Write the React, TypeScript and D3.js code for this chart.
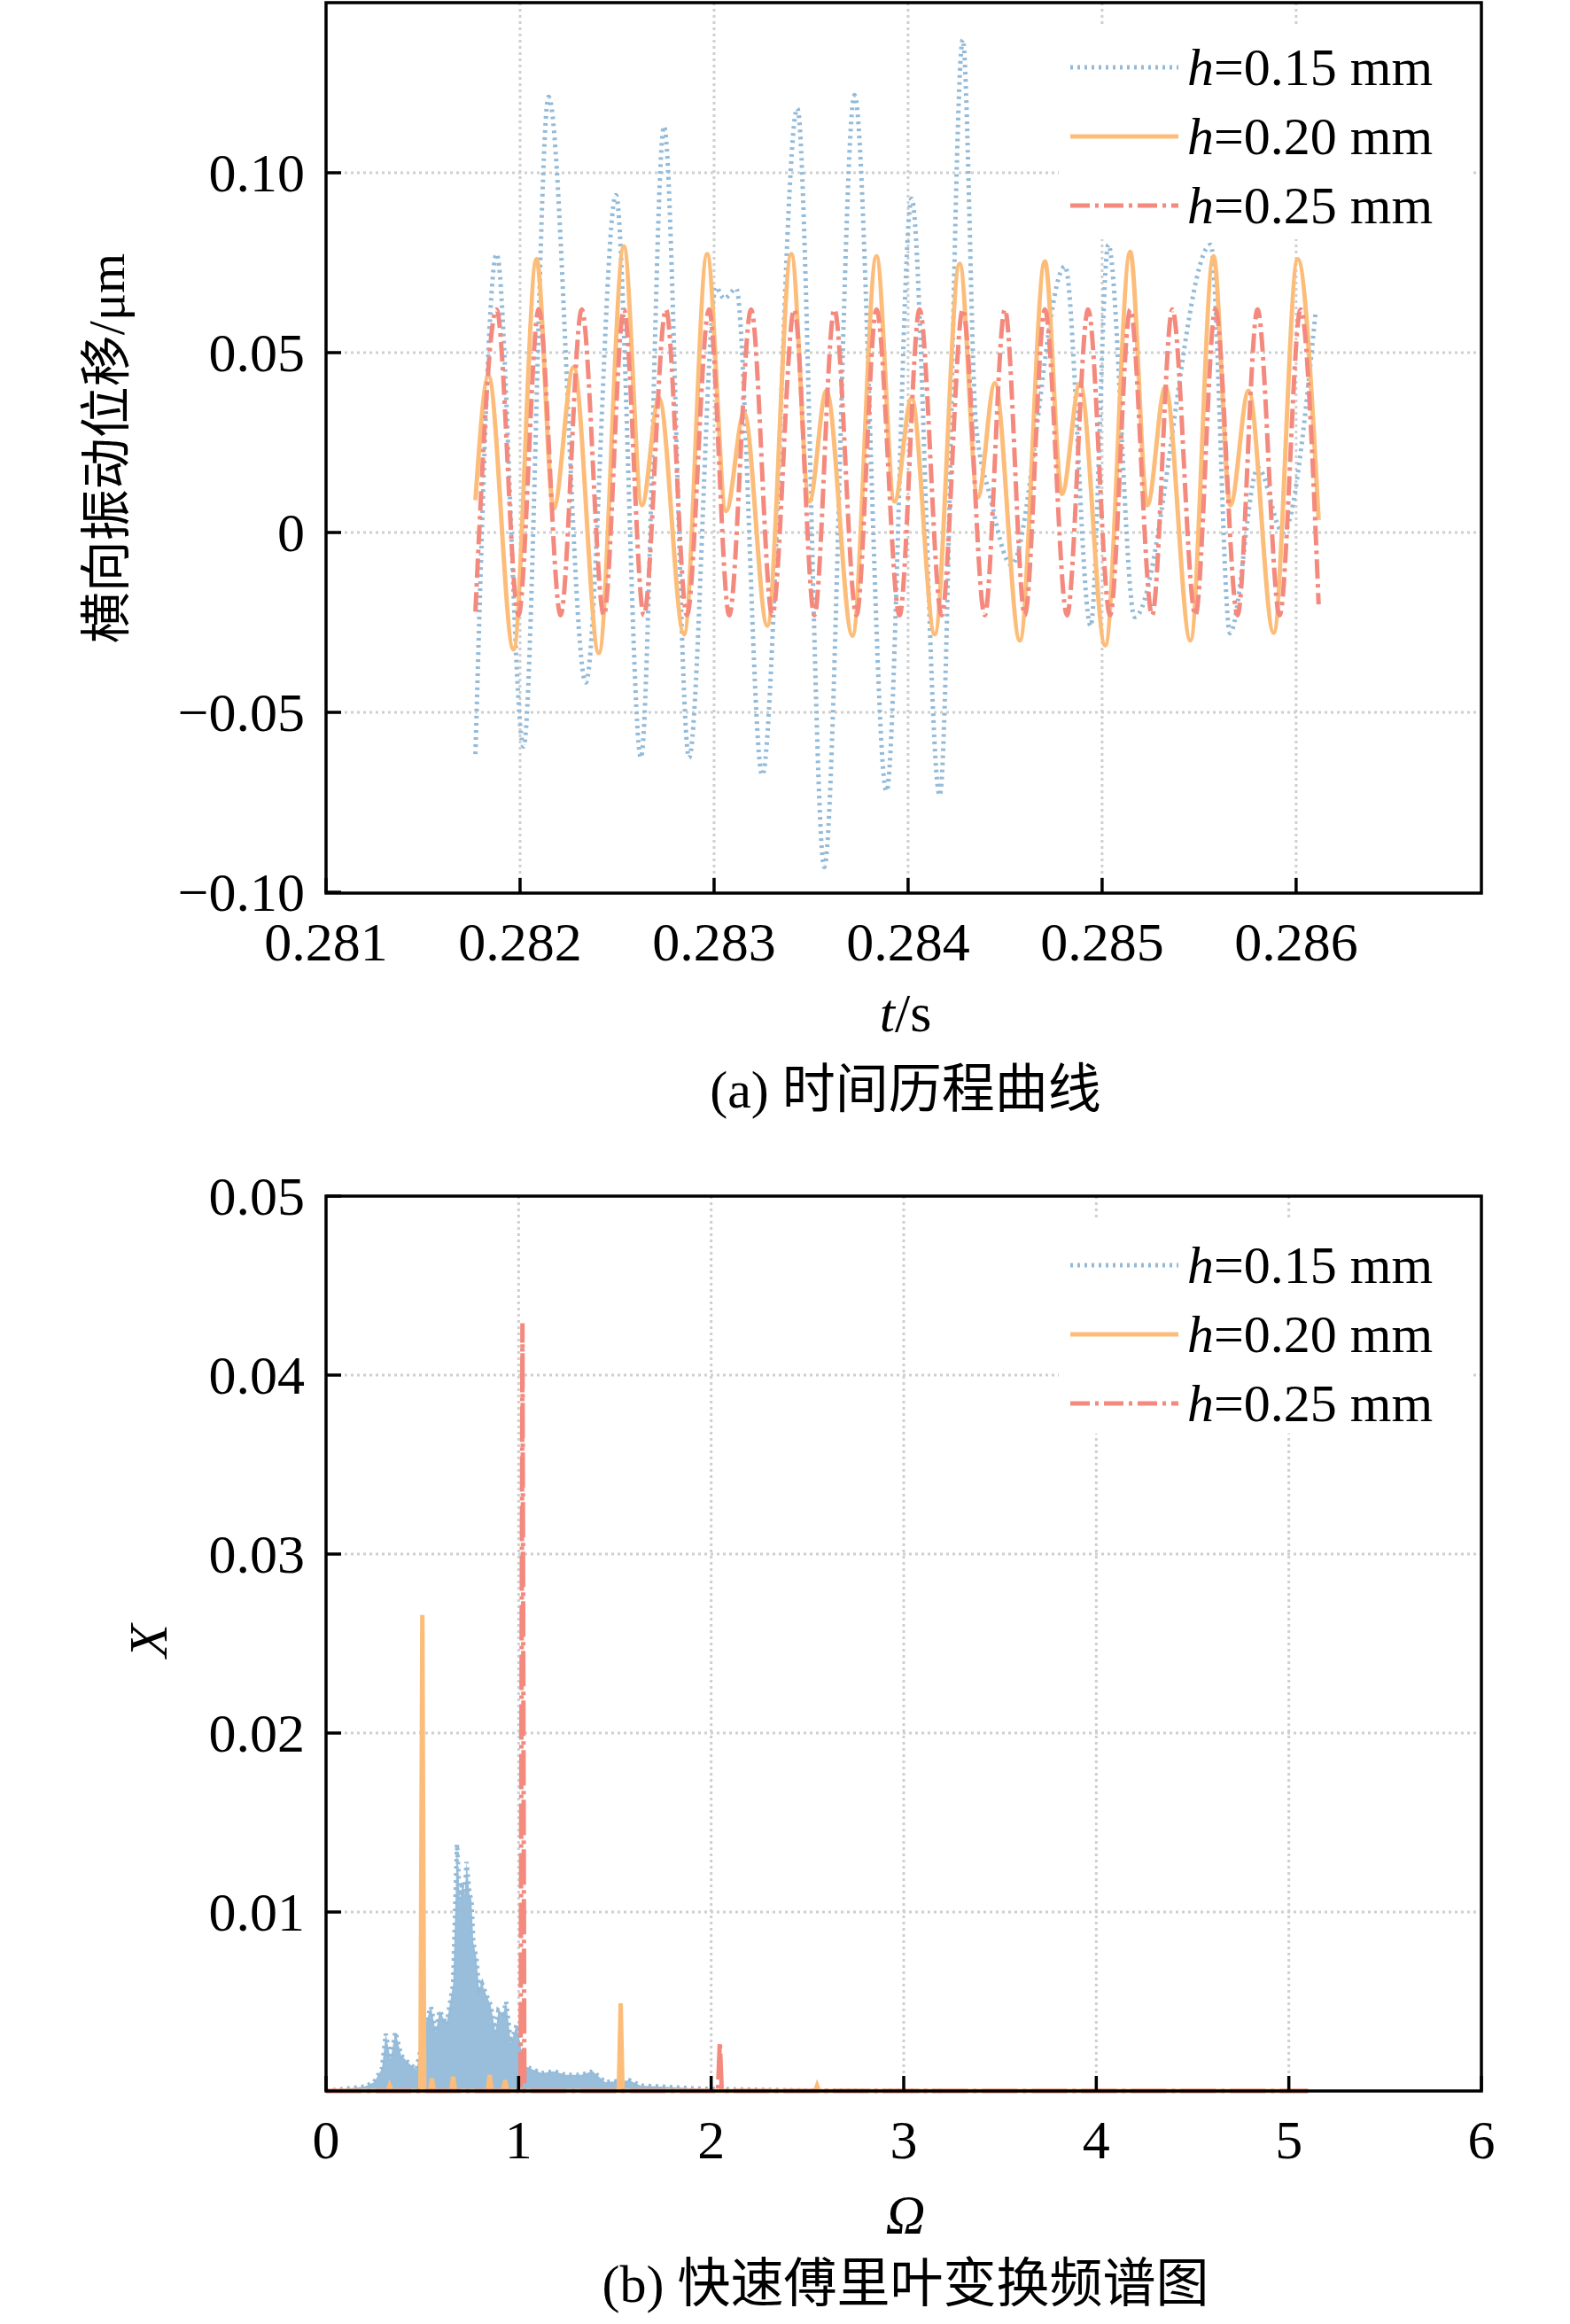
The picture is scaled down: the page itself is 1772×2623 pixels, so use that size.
import React from "react";
import * as d3 from "d3";

// ---------- data: time history (t in s, displacement in μm) ----------
const tH15 = [0.281770,0.281879,0.282018,0.282147,0.282339,0.282494,0.282623,0.282742,0.282871,0.283010,0.283052,0.283114,0.283248,0.283429,0.283568,0.283724,0.283889,0.284018,0.284163,0.284282,0.284350,0.284423,0.284532,0.284809,0.284941,0.285032,0.285168,0.285560,0.285659,0.285804,0.285932,0.286100];
const vH15 = [-0.0616,0.0774,-0.0595,0.1211,-0.0417,0.0938,-0.0626,0.1129,-0.0626,0.0682,0.0650,0.0678,-0.0674,0.1179,-0.0930,0.1216,-0.0719,0.0928,-0.0731,0.1370,0.0300,0.0100,-0.0090,0.0740,-0.0260,0.0800,-0.0235,0.0800,-0.0280,0.0180,0.0000,0.0610];

const tH20 = [0.281770,0.281837,0.281966,0.282085,0.282173,0.282276,0.282406,0.282535,0.282628,0.282716,0.282845,0.282964,0.283062,0.283155,0.283274,0.283398,0.283491,0.283579,0.283713,0.283837,0.283930,0.284018,0.284137,0.284266,0.284359,0.284447,0.284576,0.284705,0.284793,0.284886,0.285016,0.285145,0.285233,0.285326,0.285455,0.285574,0.285661,0.285755,0.285884,0.286008,0.286116];
const vH20 = [0.0090,0.0435,-0.0325,0.0760,0.0066,0.0460,-0.0335,0.0795,0.0076,0.0374,-0.0283,0.0774,0.0060,0.0333,-0.0259,0.0774,0.0086,0.0394,-0.0287,0.0768,0.0086,0.0374,-0.0283,0.0747,0.0097,0.0415,-0.0300,0.0754,0.0107,0.0415,-0.0314,0.0780,0.0076,0.0405,-0.0300,0.0768,0.0076,0.0394,-0.0279,0.0760,0.0035];

const tH25 = [0.281770,0.281879,0.281992,0.282096,0.282209,0.282318,0.282432,0.282535,0.282638,0.282752,0.282860,0.282974,0.283078,0.283191,0.283300,0.283413,0.283517,0.283620,0.283734,0.283837,0.283956,0.284059,0.284173,0.284282,0.284395,0.284499,0.284602,0.284705,0.284819,0.284928,0.285041,0.285145,0.285258,0.285362,0.285481,0.285584,0.285698,0.285801,0.285915,0.286023,0.286116];
const vH25 = [-0.022,0.062,-0.023,0.062,-0.023,0.062,-0.023,0.062,-0.023,0.062,-0.023,0.062,-0.023,0.062,-0.023,0.062,-0.023,0.062,-0.023,0.062,-0.023,0.062,-0.023,0.062,-0.023,0.062,-0.023,0.062,-0.023,0.062,-0.023,0.062,-0.023,0.062,-0.023,0.062,-0.023,0.062,-0.023,0.062,-0.020];

// ---------- data: FFT spectrum ----------
const wH15 = [0,0.20,0.25,0.29,0.31,0.335,0.36,0.39,0.435,0.47,0.515,0.545,0.57,0.59,0.625,0.645,0.66,0.68,0.695,0.71,0.72,0.73,0.745,0.755,0.765,0.78,0.795,0.81,0.835,0.855,0.88,0.895,0.92,0.935,0.96,0.99,1.03,1.075,1.12,1.185,1.245,1.325,1.385,1.45,1.575,1.635,1.745,1.9,2.07,2.5,3.2];
const xH15 = [0,0.00025,0.0005,0.00125,0.0032,0.0018,0.0033,0.002,0.0015,0.0012,0.0037,0.0047,0.0033,0.0045,0.0037,0.005,0.006,0.0138,0.0107,0.0117,0.011,0.0128,0.011,0.0107,0.0083,0.0075,0.0057,0.006,0.0053,0.0048,0.0033,0.0045,0.0043,0.005,0.0027,0.0037,0.0014,0.0012,0.001,0.0011,0.0009,0.0009,0.0011,0.0005,0.0006,0.0003,0.00025,0.00015,0.0001,0.00003,0];

const wH20 = [0,0.32,0.33,0.34,0.49,0.50,0.51,0.54,0.55,0.56,0.65,0.66,0.67,0.84,0.85,0.86,0.92,0.93,0.94,1.52,1.53,1.54,2.54,2.55,2.56,5.1];
const xH20 = [0,0,0.0003,0,0,0.0266,0,0,0.0007,0,0,0.0008,0,0,0.0009,0,0,0.0006,0,0,0.0049,0,0,0.0003,0,0];

const wH25 = [0,1.01,1.02,1.03,2.035,2.045,2.055,5.1];
const xH25 = [0,0,0.0429,0,0,0.00275,0,0];

const legendLabels = ["0.15", "0.20", "0.25"];
const topXTicks = [0.281, 0.282, 0.283, 0.284, 0.285, 0.286];
const topYTicks = [0.1, 0.05, 0, -0.05, -0.1];
const topYLabels = ["0.10", "0.05", "0", "\u22120.05", "\u22120.10"];
const botXTicks = [0, 1, 2, 3, 4, 5, 6];
const botYTicks = [0.01, 0.02, 0.03, 0.04, 0.05];

const C15 = "#93bbd9";
const C20 = "#fdbd7a";
const C25 = "#f4897e";
const styles = [
  { c: C15, dash: "3 5", w: 5 },
  { c: C20, dash: "", w: 5 },
  { c: C25, dash: "22 6 4 6", w: 5 },
];

const FONT = "'Liberation Serif', 'Times New Roman', serif";
const CJK = "'Noto Sans CJK SC', sans-serif";
const L = 368, R = 1672;

function Legend({ y0 }: { y0: number }) {
  return (
    <g>
      {legendLabels.map((lab, i) => (
        <g key={i} transform={`translate(0,${y0 + i * 78})`}>
          <line x1={1208} x2={1330} y1={0} y2={0} stroke={styles[i].c} strokeWidth={5} strokeDasharray={styles[i].dash} />
          <text x={1340} y={20} fontSize={60} fontFamily={FONT}>
            <tspan fontStyle="italic">h</tspan>=0.{lab.slice(2)} mm
          </text>
        </g>
      ))}
    </g>
  );
}

export default function App() {
  const T = 3, B = 1008;
  const x1 = d3.scaleLinear().domain([0.281, 0.286955]).range([L, R]);
  const y1 = d3.scaleLinear().domain([-0.1, 0.1]).range([1007, 195]);
  const line1 = (ts: number[], vs: number[]) =>
    d3.line<number>().x((_, i) => x1(ts[i])).y((v) => y1(v)).curve(d3.curveMonotoneX)(vs) || "";

  const T2 = 1350, B2 = 2360;
  const x2 = d3.scaleLinear().domain([0, 6]).range([L, R]);
  const y2 = d3.scaleLinear().domain([0, 0.05]).range([B2, T2]);
  const line2 = (ws: number[], xs: number[]) =>
    d3.line<number>().x((_, i) => x2(ws[i])).y((v) => y2(v))(xs) || "";
  const area2 = d3.area<number>().x((_, i) => x2(wH15[i])).y0(B2).y1((v) => y2(v))(xH15) || "";

  const grid = "#cfcfcf";
  return (
    <svg width={1772} height={2623} style={{ position: "absolute", left: 0, top: 0, background: "#fff" }}>
      {/* ---------- plot (a) ---------- */}
      <g>
        {topXTicks.slice(1).map((t) => (
          <line key={t} x1={x1(t)} x2={x1(t)} y1={T} y2={B} stroke={grid} strokeWidth={3} strokeDasharray="3 4" />
        ))}
        {topYTicks.slice(0, 4).map((v) => (
          <line key={v} x1={L} x2={R} y1={y1(v)} y2={y1(v)} stroke={grid} strokeWidth={3} strokeDasharray="3 4" />
        ))}
        <path d={line1(tH15, vH15)} fill="none" stroke={C15} strokeWidth={5} strokeDasharray="3 5" />
        <path d={line1(tH20, vH20)} fill="none" stroke={C20} strokeWidth={5} />
        <path d={line1(tH25, vH25)} fill="none" stroke={C25} strokeWidth={5} strokeDasharray="22 6 4 6" />
        <rect x={L} y={T} width={R - L} height={B - T} fill="none" stroke="#000" strokeWidth={3.5} />
        {topXTicks.map((t) => (
          <g key={t}>
            <line x1={x1(t)} x2={x1(t)} y1={B} y2={B - 17} stroke="#000" strokeWidth={3.5} />
            <text x={x1(t)} y={1084} fontSize={62} fontFamily={FONT} textAnchor="middle">{t.toFixed(3)}</text>
          </g>
        ))}
        {topYTicks.map((v, i) => (
          <g key={v}>
            <line x1={L} x2={L + 17} y1={y1(v)} y2={y1(v)} stroke="#000" strokeWidth={3.5} />
            <text x={344} y={y1(v) + 21} fontSize={62} fontFamily={FONT} textAnchor="end">{topYLabels[i]}</text>
          </g>
        ))}
        <text transform="translate(140,506) rotate(-90)" fontSize={58} textAnchor="middle" fontFamily={CJK}>
          横向振动位移<tspan fontFamily={FONT}>/μm</tspan>
        </text>
        <text x={1022} y={1164} fontSize={62} fontFamily={FONT} textAnchor="middle">
          <tspan fontStyle="italic">t</tspan>/s
        </text>
        <text x={1022} y={1250} fontSize={60} fontFamily={FONT} textAnchor="middle">
          (a) <tspan fontFamily={CJK}>时间历程曲线</tspan>
        </text>
        <rect x={1195} y={30} width={465} height={240} fill="#fff" />
        <Legend y0={76} />
      </g>

      {/* ---------- plot (b) ---------- */}
      <g>
        {botXTicks.slice(1, 6).map((t) => (
          <line key={t} x1={x2(t)} x2={x2(t)} y1={T2} y2={B2} stroke={grid} strokeWidth={3} strokeDasharray="3 4" />
        ))}
        {botYTicks.slice(0, 4).map((v) => (
          <line key={v} x1={L} x2={R} y1={y2(v)} y2={y2(v)} stroke={grid} strokeWidth={3} strokeDasharray="3 4" />
        ))}
        <path d={area2} fill={C15} opacity={0.95} />
        <path d={line2(wH15, xH15)} fill="none" stroke={C15} strokeWidth={5} strokeDasharray="3 5" />
        <path d={line2(wH20, xH20)} fill="none" stroke={C20} strokeWidth={5} />
        <path d={line2(wH25, xH25)} fill="none" stroke={C25} strokeWidth={5} strokeDasharray="40 6 4 6" />
        <rect x={L} y={T2} width={R - L} height={B2 - T2} fill="none" stroke="#000" strokeWidth={3.5} />
        {botXTicks.map((t) => (
          <g key={t}>
            <line x1={x2(t)} x2={x2(t)} y1={B2} y2={B2 - 17} stroke="#000" strokeWidth={3.5} />
            <text x={x2(t)} y={2436} fontSize={62} fontFamily={FONT} textAnchor="middle">{t}</text>
          </g>
        ))}
        {botYTicks.map((v) => (
          <g key={v}>
            <line x1={L} x2={L + 17} y1={y2(v)} y2={y2(v)} stroke="#000" strokeWidth={3.5} />
            <text x={344} y={y2(v) + 21} fontSize={62} fontFamily={FONT} textAnchor="end">{v.toFixed(2)}</text>
          </g>
        ))}
        <text transform="translate(188,1852) rotate(-90)" fontSize={62} fontStyle="italic" textAnchor="middle" fontFamily={FONT}>X</text>
        <text x={1022} y={2520} fontSize={62} fontStyle="italic" fontFamily={FONT} textAnchor="middle">Ω</text>
        <text x={1022} y={2598} fontSize={60} fontFamily={FONT} textAnchor="middle">
          (b) <tspan fontFamily={CJK}>快速傅里叶变换频谱图</tspan>
        </text>
        <rect x={1195} y={1378} width={465} height={240} fill="#fff" />
        <Legend y0={1428} />
      </g>
    </svg>
  );
}
